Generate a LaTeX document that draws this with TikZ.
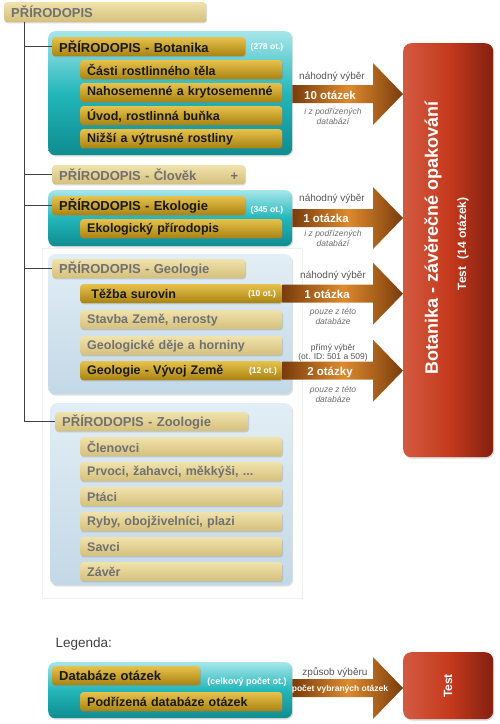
\documentclass[tikz,border=0pt]{standalone}
\usepackage{fontspec}
\setmainfont{Liberation Sans}
\usetikzlibrary{positioning,shadows,calc}

\definecolor{goldtop}{HTML}{E6C24C}
\definecolor{goldbot}{HTML}{A98210}
\definecolor{tantop}{HTML}{F0E2AC}
\definecolor{tanbot}{HTML}{D5C07C}
\definecolor{tantext}{HTML}{707070}
\definecolor{tealtop}{HTML}{A6E6EA}
\definecolor{tealmid}{HTML}{22B6BA}
\definecolor{tealbot}{HTML}{0F8C90}
\definecolor{paletop}{HTML}{E2EEF5}
\definecolor{palebot}{HTML}{C3D8E6}
\definecolor{arrowdark}{HTML}{7A3C0C}
\definecolor{arroworange}{HTML}{DE8A2E}
\definecolor{redleft}{HTML}{D25A40}
\definecolor{redmid}{HTML}{C63A1E}
\definecolor{redright}{HTML}{842010}
\definecolor{labelgray}{HTML}{555555}

% thick arrow from #1 to tip #2
\newcommand{\fatarrow}[2]{%
  \shade[arrowshade] ($(#1)+(0,-9)$) -- ($(#2)+(-30,-9)$) -- ($(#2)+(-30,-31)$)
    -- (#2) -- ($(#2)+(-30,31)$) -- ($(#2)+(-30,9)$) -- ($(#1)+(0,9)$) -- cycle;}

\begin{document}
\begin{tikzpicture}[x=1pt,y=-1pt,
    bar/.style={rounded corners=3pt, minimum height=19pt, inner xsep=7pt, inner ysep=0pt,
      align=left, anchor=north west, font=\bfseries\fontsize{12.5}{14}\selectfont,
      drop shadow={opacity=0.3,shadow xshift=0.8pt,shadow yshift=-1.2pt}},
    goldbar/.style={bar, top color=goldtop, bottom color=goldbot, text=black!90},
    tanbar/.style={bar, top color=tantop, bottom color=tanbot, text=tantext},
    subw/.style={text width=188pt},
    titlew/.style={text width=179pt, font=\bfseries\fontsize{13}{14}\selectfont},
    panel/.style={rounded corners=7pt, anchor=north west, inner sep=0pt,
      drop shadow={opacity=0.25,shadow xshift=1pt,shadow yshift=-1.5pt}},
    tealpanel/.style={panel, top color=tealtop, bottom color=tealbot, middle color=tealmid},
    palepanel/.style={panel, top color=paletop, bottom color=palebot},
    redbox/.style={rounded corners=8pt, anchor=north west, inner sep=0pt,
      left color=redleft, right color=redright, middle color=redmid,
      drop shadow={opacity=0.3,shadow xshift=1pt,shadow yshift=-1.5pt}},
    arrowshade/.style={left color=arrowdark, right color=arrowdark, middle color=arroworange},
    count/.style={text=white, font=\bfseries\fontsize{8.5}{10}\selectfont},
    howlabel/.style={text=labelgray, font=\fontsize{10}{11}\selectfont, align=center},
    numlabel/.style={text=white, font=\bfseries\fontsize{11.5}{13}\selectfont},
    notelabel/.style={text=labelgray!85, font=\itshape\fontsize{8.5}{10}\selectfont, align=center},
    treeline/.style={draw=black!75, line width=0.9pt}]

\useasboundingbox (0,0) rectangle (500,724);

% faint frame round the inactive groups
\draw[black!6, fill=white] (42,248) rectangle (302,598);

% root
\node[tanbar, subw, font=\bfseries\fontsize{13}{14}\selectfont, minimum height=20pt] (root) at (4,2) {PŘÍRODOPIS};
\coordinate (trunk) at (24,22);

% Botanika
\node[tealpanel, minimum width=244pt, minimum height=124pt] (botpanel) at (48,31) {};
\node[goldbar, titlew] (bot) at (52,37) {PŘÍRODOPIS - Botanika};
\node[goldbar, subw] (bot1) at (80,60) {Části rostlinného těla};
\node[goldbar, subw] (bot2) at (80,83) {Nahosemenné a krytosemenné};
\node[goldbar, subw] (bot3) at (80,106) {Úvod, rostlinná buňka};
\node[goldbar, subw] (bot4) at (80,129) {Nižší a výtrusné rostliny};
\node[count] (botcount) at (267,47) {(278 ot.)};

% Člověk
\node[tanbar, titlew] (clo) at (52,165) {PŘÍRODOPIS - Člověk\hfill+};

% Ekologie
\node[tealpanel, minimum width=244pt, minimum height=56pt] (ekopanel) at (48,190) {};
\node[goldbar, titlew] (eko) at (52,196) {PŘÍRODOPIS - Ekologie};
\node[goldbar, subw] (eko1) at (80,219) {Ekologický přírodopis};
\node[count] (ekocount) at (267,210) {(345 ot.)};

% Geologie
\node[palepanel, minimum width=244pt, minimum height=140pt] (geopanel) at (48,254) {};
\node[tanbar, titlew] (geo) at (52,259) {PŘÍRODOPIS - Geologie};
\node[goldbar, subw] (tezba) at (80,284) {\ Těžba surovin};
\node[tanbar, subw] (geo2) at (80,310) {Stavba Země, nerosty};
\node[tanbar, subw] (geo3) at (80,336) {Geologické děje a horniny};
\node[goldbar, subw] (vyvoj) at (80,361) {Geologie - Vývoj Země};
\node[count] (tezbacount) at (262,294) {(10 ot.)};
\node[count] (vyvojcount) at (263,371) {(12 ot.)};

% Zoologie
\node[palepanel, minimum width=242pt, minimum height=182pt] (zoopanel) at (50,403) {};
\node[tanbar, titlew] (zoo) at (55,412) {PŘÍRODOPIS - Zoologie};
\foreach \name/\txt [count=\i from 0] in {zoo1/Členovci, zoo2/{Prvoci, žahavci, měkkýši, ...},
    zoo3/Ptáci, zoo4/{Ryby, obojživelníci, plazi}, zoo5/Savci, zoo6/Závěr}
  \node[tanbar, subw] (\name) at (80,437+25*\i) {\txt};

% tree lines
\draw[treeline] (trunk) |- (zoo.west);
\foreach \t in {bot,clo,eko,geo}
  \draw[treeline] (trunk) |- (\t.west);

% test
\node[redbox, minimum width=90pt, minimum height=414pt] (test) at (403,43) {};
\node[rotate=90, text=white, font=\bfseries\fontsize{18}{20}\selectfont] (testname) at (433,238) {Botanika - závěrečné opakování};
\node[rotate=90, text=white, font=\bfseries\fontsize{12}{14}\selectfont] (testcount) at (463,244) {Test\hspace{7pt}(14 otázek)};

% arrows
\coordinate (a1) at (292,94);
\coordinate (a2) at (292,218);
\coordinate (a1s) at (botpanel.east |- a1);
\coordinate (a1e) at (test.west |- a1);
\coordinate (a2s) at (ekopanel.east |- a2);
\coordinate (a2e) at (test.west |- a2);
\coordinate (a3e) at (test.west |- tezba.east);
\coordinate (a4e) at (test.west |- vyvoj.east);
\fatarrow{a1s}{a1e}
\fatarrow{a2s}{a2e}
\fatarrow{tezba.east}{a3e}
\fatarrow{vyvoj.east}{a4e}

\node[howlabel] (how1) at (332,77) {náhodný výběr};
\node[numlabel] (num1) at (330,95) {10 otázek};
\node[notelabel] (note1) at (333,116) {i z podřízených\\databází};

\node[howlabel] (how2) at (332,199) {náhodný výběr};
\node[numlabel] (num2) at (326,218) {1 otázka};
\node[notelabel] (note2) at (333,238) {i z podřízených\\databází};

\node[howlabel] (how3) at (333,276) {náhodný výběr};
\node[numlabel] (num3) at (327,294) {1 otázka};
\node[notelabel] (note3) at (333,316) {pouze z této\\databáze};

\node[howlabel, font=\fontsize{8.5}{9}\selectfont] (how4) at (333,353) {přímý výběr\\(ot. ID: 501 a 509)};
\node[numlabel] (num4) at (330,372) {2 otázky};
\node[notelabel] (note4) at (333,394) {pouze z této\\databáze};

% legend
\node[anchor=west, text=black!75, font=\fontsize{13.5}{15}\selectfont] (legtitle) at (52,644) {Legenda:};
\node[tealpanel, minimum width=244pt, minimum height=56pt] (legpanel) at (48,662) {};
\node[goldbar, text width=134pt, font=\bfseries\fontsize{13}{14}\selectfont] (legdb) at (52,666) {Databáze otázek};
\node[goldbar, subw] (legsub) at (80,692) {Podřízená databáze otázek};
\node[count, font=\bfseries\fontsize{9}{10}\selectfont] (legcount) at (247,682) {(celkový počet ot.)};
\node[redbox, minimum width=90pt, minimum height=67pt] (legtest) at (403,652) {};
\node[rotate=90, text=white, font=\bfseries\fontsize{12}{13}\selectfont] (legtestname) at (448,686) {Test};
\coordinate (a5) at (292,688);
\coordinate (a5s) at (legpanel.east |- a5);
\coordinate (a5e) at (legtest.west |- a5);
\fatarrow{a5s}{a5e}
\node[howlabel] (how5) at (335,672) {způsob výběru};
\node[numlabel, font=\bfseries\fontsize{8.5}{9}\selectfont] (num5) at (340,689) {počet vybraných otázek};

\end{tikzpicture}
\end{document}
